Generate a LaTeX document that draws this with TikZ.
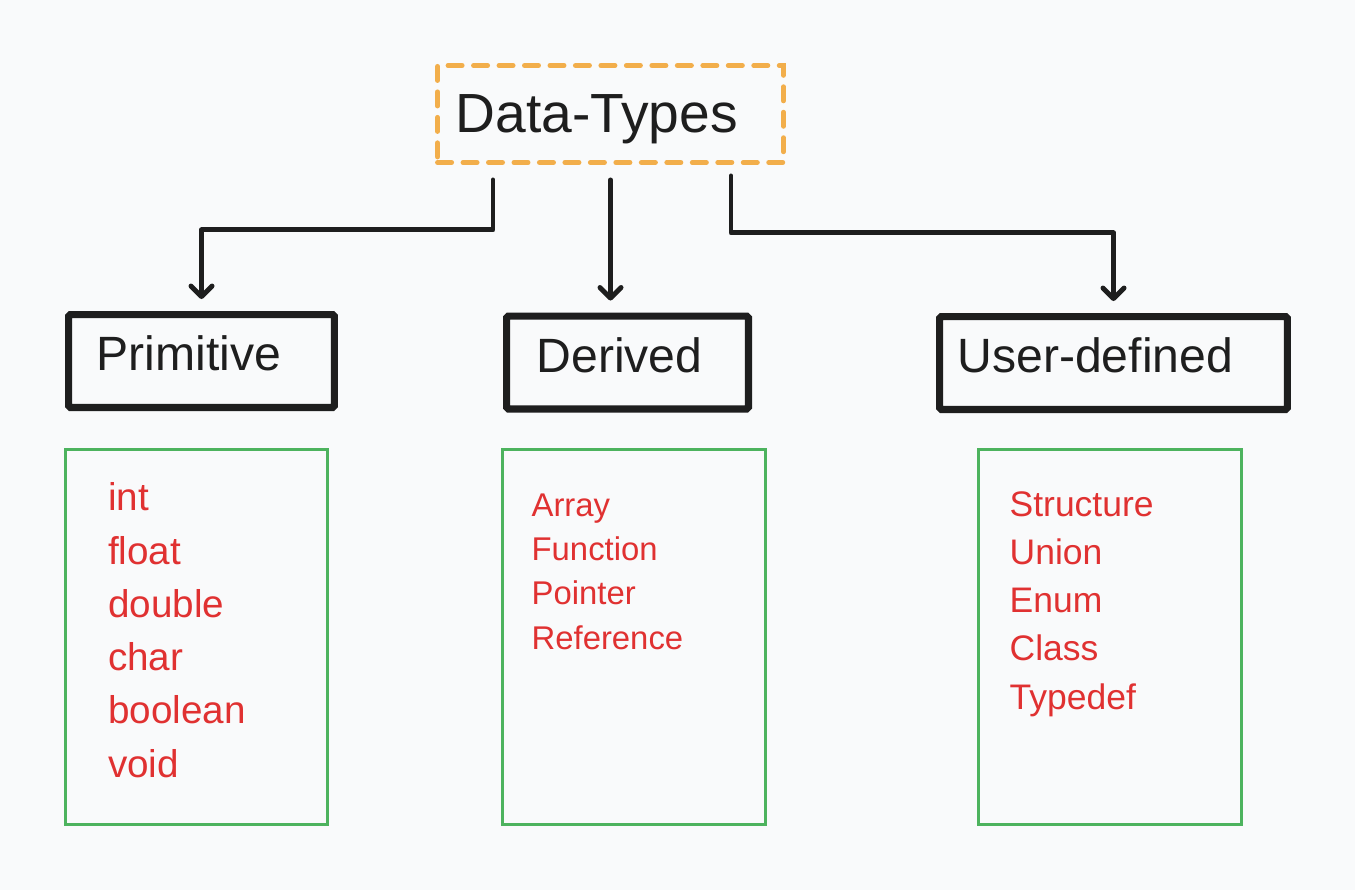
\documentclass[tikz,border=0pt]{standalone}
\usepackage{fontspec}
\setmainfont{Liberation Sans}
\usetikzlibrary{arrows.meta,calc}
\definecolor{bgpaper}{HTML}{F9FAFB}
\definecolor{inkdark}{HTML}{1E1E1E}
\definecolor{dashorange}{HTML}{F2AE4B}
\definecolor{listgreen}{HTML}{4DB35E}
\definecolor{listred}{HTML}{E03131}

\begin{document}
\begin{tikzpicture}[x=0.02cm, y=-0.02cm, >={Straight Barb[length=6pt,width=12pt,round]},
  headbox/.style 2 args={draw=inkdark, line width=4pt, rounded corners=1pt, align=left,
    text width=#1, inner xsep=#2, minimum height=1.86cm, text depth=0.3cm, text=inkdark,
    font=\fontsize{27.4}{32}\selectfont},
  listbox/.style={draw=listgreen, line width=1.7pt, minimum width=5.25cm, minimum height=7.5cm},
  listtext/.style={anchor=base west, align=left, text=listred, inner sep=0pt},
  conn/.style={->, draw=inkdark, line width=2.8pt, line cap=round, line join=round, shorten >=0.24cm}]
\useasboundingbox (0,0) rectangle (1355,890);
\fill[bgpaper] (0,0) rectangle (1355,890);
\node[draw=dashorange, line width=2.8pt, dash pattern=on 8pt off 6.5pt, line cap=round,
  align=left, text width=6.2cm, inner xsep=0.36cm, minimum height=1.94cm, text height=0.96cm,
  text=inkdark, font=\fontsize{31.4}{36}\selectfont] (title) at (610.5,114) {Data-Types};
\node[headbox={4.2cm}{0.56cm}] (prim) at (201.5,361) {Primitive};
\node[headbox={3.64cm}{0.6cm}] (derv) at (627.5,362.5) {Derived};
\node[headbox={6.24cm}{0.36cm}] (user) at (1113.5,363) {User-defined};
\draw[conn] ($(title.south)+(-117.5,15)$) -- ++(0,50) -| (prim.north);
\draw[conn] ($(title.south)+(0,15)$) -- (title.south |- derv.north);
\draw[conn] ($(title.south)+(120.5,11)$) -- ++(0,57) -| (user.north);
\node[listbox] (primlist) at (196.5,637) {};
\node[listbox] (dervlist) at (634,637) {};
\node[listbox] (userlist) at (1110,637) {};
\node[listtext, font=\fontsize{22}{30.3}\selectfont] (primitems)
  at ($(primlist.north west)+(44,329)$) {int\\float\\double\\char\\boolean\\void};
\node[listtext, font=\fontsize{18.7}{25.2}\selectfont] (dervitems)
  at ($(dervlist.north west)+(30,201)$) {Array\\Function\\Pointer\\Reference};
\node[listtext, font=\fontsize{20.2}{27.4}\selectfont] (useritems)
  at ($(userlist.north west)+(32,261)$) {Structure\\Union\\Enum\\Class\\Typedef};
\end{tikzpicture}
\end{document}
